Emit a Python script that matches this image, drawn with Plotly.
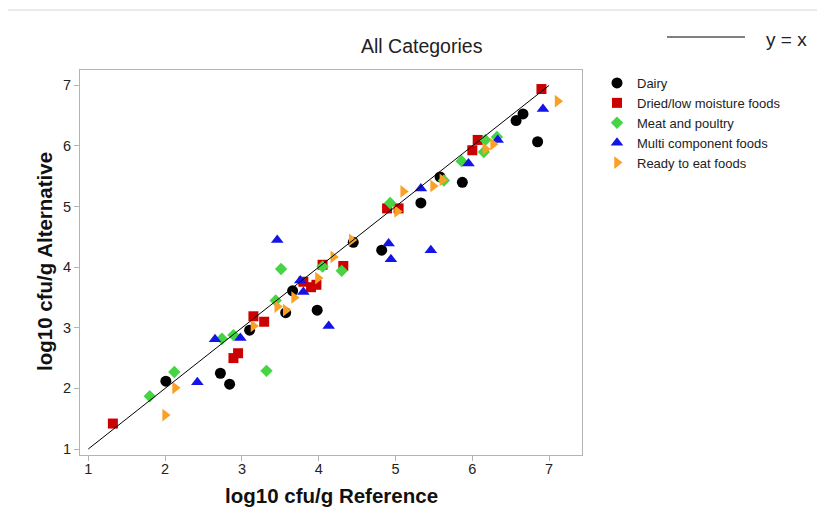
import plotly.graph_objects as go

# ---- data (log10 cfu/g) ----
dairy_x = [2.01, 2.72, 2.84, 3.10, 3.57, 3.66, 3.98, 4.45, 4.82, 5.33, 5.58, 5.87, 6.57, 6.66, 6.85]
dairy_y = [2.12, 2.25, 2.07, 2.96, 3.25, 3.61, 3.29, 4.41, 4.28, 5.06, 5.49, 5.40, 6.42, 6.53, 6.07]

dried_x = [1.32, 2.89, 2.95, 3.15, 3.29, 3.80, 3.90, 3.97, 4.05, 4.32, 4.89, 5.04, 6.00, 6.07, 6.90]
dried_y = [1.42, 2.50, 2.58, 3.19, 3.10, 3.76, 3.67, 3.71, 4.04, 4.02, 4.97, 4.97, 5.93, 6.10, 6.94]

meat_x = [1.80, 2.12, 2.74, 2.89, 3.32, 3.44, 3.51, 4.05, 4.30, 4.93, 5.63, 5.86, 6.15, 6.17, 6.32]
meat_y = [1.87, 2.27, 2.82, 2.88, 2.29, 3.45, 3.97, 4.01, 3.94, 5.06, 5.43, 5.75, 5.90, 6.10, 6.15]

multi_x = [2.42, 2.65, 2.98, 3.46, 3.76, 3.80, 4.13, 4.91, 4.94, 5.33, 5.46, 5.95, 6.33, 6.92]
multi_y = [2.10, 2.81, 2.83, 4.45, 3.78, 3.59, 3.03, 4.39, 4.13, 5.30, 4.28, 5.71, 6.10, 6.61]

rte_x = [2.00, 2.13, 3.15, 3.46, 3.57, 3.68, 3.99, 4.19, 4.43, 5.02, 5.10, 5.49, 5.61, 6.17, 6.27, 7.11]
rte_y = [1.56, 2.01, 3.03, 3.35, 3.29, 3.50, 3.82, 4.17, 4.45, 4.92, 5.25, 5.34, 5.44, 5.95, 6.03, 6.74]

identity = [1, 7]

series = [
    ("Dairy", dairy_x, dairy_y, "circle", "#000000", 11),
    ("Dried/low moisture foods", dried_x, dried_y, "square", "#CC0000", 10),
    ("Meat and poultry", meat_x, meat_y, "diamond", "#44D444", 9.5),
    ("Multi component foods", multi_x, multi_y, "triangle-up", "#1414E6", 11),
    ("Ready to eat foods", rte_x, rte_y, "triangle-right", "#FBA026", 11),
]

FONT = "Arial, Liberation Sans, sans-serif"

fig = go.Figure()
for name, xs, ys, sym, col, sz in series:
    fig.add_trace(go.Scatter(
        x=xs, y=ys, mode="markers", name=name,
        marker=dict(symbol=sym, color=col, size=sz, line=dict(width=0)),
    ))

fig.add_trace(go.Scatter(
    x=identity, y=identity, mode="lines", name="y = x", showlegend=False,
    line=dict(color="#000000", width=1),
))

# page offset of the figure (body margin)
OFF = 8
# plot area in page pixels: x 80..582, y 70..455
L, R, T, B = 80 - OFF, 582 - OFF, 70 - OFF, 455 - OFF
W, H = 825 - OFF, 525 - OFF


def px(xp):
    return (xp - OFF - L) / (R - L)


def py(yp):
    return (B - (yp - OFF)) / (B - T)


axis_common = dict(
    showgrid=False, zeroline=False, showline=True, mirror=True,
    linecolor="#b4b4b4", linewidth=1,
    ticks="outside", ticklen=5, tickcolor="#b4b4b4",
    tickfont=dict(family=FONT, size=14.5, color="#222222"),
    dtick=1,
)

fig.update_layout(
    width=W, height=H,
    margin=dict(l=L, r=W - R, t=T, b=H - B, pad=0),
    paper_bgcolor="white", plot_bgcolor="white",
    font=dict(family=FONT, color="#222222"),
    xaxis=dict(range=[0.892, 7.428], tick0=1, ticklabelstandoff=-4, **axis_common),
    yaxis=dict(range=[0.901, 7.254], tick0=1, **axis_common),
    showlegend=True,
    legend=dict(
        x=px(597), y=py(68), xanchor="left", yanchor="top",
        font=dict(family=FONT, size=13, color="#222222"),
        bgcolor="rgba(0,0,0,0)", borderwidth=0, tracegroupgap=0,
        itemsizing="trace",
    ),
    shapes=[
        dict(type="line", xref="paper", yref="paper",
             x0=px(8), x1=px(825), y0=py(10), y1=py(10),
             line=dict(color="#d6d6d6", width=1)),
        dict(type="line", xref="paper", yref="paper",
             x0=px(667), x1=px(745), y0=py(37), y1=py(37),
             line=dict(color="#000000", width=1)),
    ],
    annotations=[
        dict(text="All Categories", xref="paper", yref="paper",
             x=px(422), y=py(46), xanchor="center", yanchor="middle", showarrow=False,
             font=dict(size=19.5, color="#222222")),
        dict(text="y = x", xref="paper", yref="paper",
             x=px(786), y=py(39), xanchor="center", yanchor="middle", showarrow=False,
             font=dict(size=19, color="#222222")),
        dict(text="<b>log10 cfu/g Reference</b>", xref="paper", yref="paper",
             x=px(331), y=py(496), xanchor="center", yanchor="middle", showarrow=False,
             font=dict(size=20.5, color="#111111")),
        dict(text="<b>log10 cfu/g Alternative</b>", xref="paper", yref="paper",
             x=px(44), y=py(262), xanchor="center", yanchor="middle", showarrow=False,
             textangle=-90,
             font=dict(size=20.5, color="#111111")),
    ],
)

fig.write_html("out.html")
